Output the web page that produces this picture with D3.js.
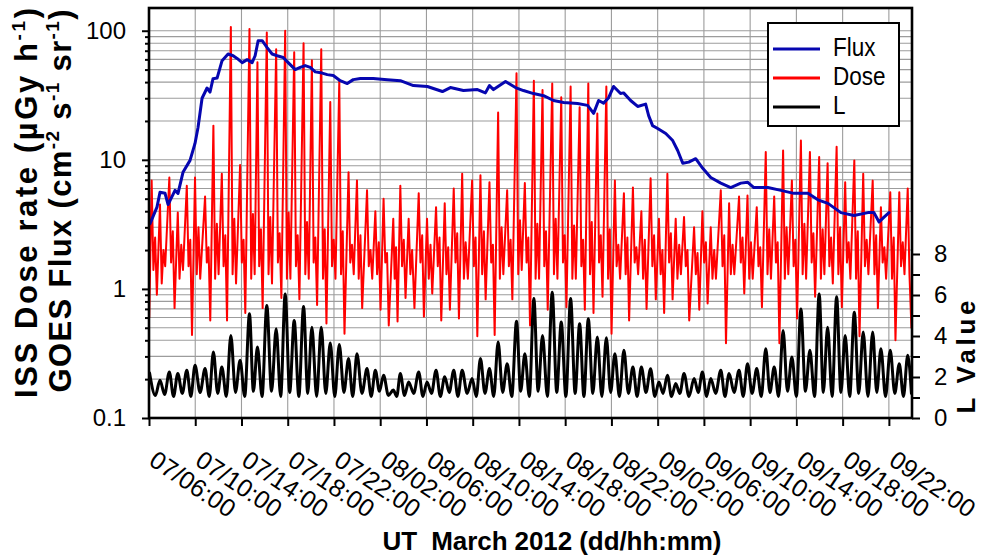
<!DOCTYPE html>
<html>
<head>
<meta charset="utf-8">
<script src="https://cdn.jsdelivr.net/npm/d3@7"></script>
<style>
  body { margin: 0; background: #fff; }
  text { font-family: "Liberation Sans", Arial, sans-serif; }
</style>
</head>
<body>
<svg id="chart" width="982" height="557"></svg>
<script>
// ---- Data (time in hours after 2012-03-07 06:00 UT) ----
const tickLabels = ["07/06:00","07/10:00","07/14:00","07/18:00","07/22:00","08/02:00","08/06:00",
  "08/10:00","08/14:00","08/18:00","08/22:00","09/02:00","09/06:00","09/10:00","09/14:00",
  "09/18:00","09/22:00"];

// GOES proton flux, cm^-2 s^-1 sr^-1
const fluxData = [
  [0.09,3.2],[0.69,4.3],[0.95,5.6],[1.39,5.5],[1.65,4.5],[2.25,5.8],[2.51,5.5],[2.94,8.0],
  [3.55,9.9],[3.98,13.4],[4.24,17.8],[4.59,30],[5.02,36],[5.28,33.5],[5.54,42.5],[5.89,43],
  [6.32,58.6],[6.84,66],[7.28,64],[7.62,61],[8.06,56.6],[8.49,59.7],[8.92,56.6],[9.18,64],
  [9.44,83.7],[9.79,83.7],[10.22,74],[10.65,66],[11.09,64],[11.61,62],[12.04,56.6],[12.65,50],
  [13.08,52],[13.51,53.7],[13.95,52],[14.38,48],[14.98,47],[15.42,45.7],[15.94,45],[16.54,41],
  [17.15,39],[17.67,41.8],[18.28,42.6],[19.40,42.6],[20.61,41.8],[21.74,41],[22.87,37.6],
  [24.08,37],[25.38,33.8],[26.07,36.3],[27.20,34.4],[28.41,35],[29.10,33],[29.45,37.6],
  [29.80,35],[30.84,40.4],[31.70,36.3],[32.39,34.4],[33.26,32.6],[34.13,31.4],[34.99,28.8],
  [35.86,27.8],[37.07,27.3],[37.94,26.4],[38.46,22.9],[38.89,28.8],[39.32,27.5],[39.76,30.3],
  [40.19,37],[40.79,32.6],[41.05,33],[41.66,28.8],[42.27,25.9],[42.96,27],[43.22,22],
  [43.56,18.4],[44.00,17.5],[44.70,16],[45.30,14.1],[45.73,11.8],[46.17,9.4],[46.69,9.6],
  [47.29,10.2],[47.90,8.6],[48.59,7.3],[49.46,6.6],[50.32,6.1],[51.19,6.6],[51.80,6.7],
  [52.32,6.1],[53.53,6.1],[54.66,5.8],[55.78,5.5],[57.00,5.5],[57.86,4.9],[58.73,4.6],
  [59.85,3.9],[60.98,3.7],[62.19,3.9],[62.71,3.9],[63.15,3.3],[63.58,3.6],[64.01,3.9]
];

// ISS dose rate, uGy/h
const doseData = [
  [0.02,0.6],
  [0.23,6.9],[0.38,1.4],[0.53,2.5],[0.68,0.9],     [0.95,4.5],[1.10,1.1],[1.25,2.0],[1.40,1.5],
  [1.76,7.3],[1.91,1.6],[2.06,2.8],[2.21,0.71],    [2.49,3.9],[2.64,1.2],[2.79,2.2],[2.94,1.4],
  [3.27,6.3],[3.42,1.5],[3.57,2.4],[3.72,0.44],    [3.98,7.3],[4.13,1.3],[4.28,3.0],[4.43,1.2],
  [4.85,5.2],[5.00,1.6],[5.15,2.1],[5.30,0.57],    [5.57,18.4],[5.72,1.2],[5.87,3.2],[6.02,1.3],
  [6.30,7.8],[6.45,1.5],[6.60,2.6],[6.75,0.57],    [7.08,107],[7.23,1.3],[7.38,3.5],[7.53,1.1],
  [7.88,9.1],[8.03,1.6],[8.18,2.4],[8.33,0.65],    [8.69,103],[8.84,1.2],[8.99,3.8],[9.14,1.3],
  [9.38,57],[9.53,1.5],[9.68,2.9],[9.83,0.71],     [10.19,97],[10.34,1.3],[10.49,3.6],[10.64,1.1],
  [11.00,72],[11.15,1.6],[11.30,2.7],[11.45,0.85], [11.78,100],[11.93,1.2],[12.08,3.9],[12.23,1.2],
  [12.56,68],[12.71,1.5],[12.86,2.6],[13.01,0.83], [13.37,80],[13.52,1.3],[13.67,3.3],[13.82,1.2],
  [14.09,59],[14.24,1.6],[14.39,2.5],[14.54,0.75], [14.90,72],[15.05,1.2],[15.20,2.9],[15.35,0.54],
  [15.68,28],[15.83,1.5],[15.98,2.4],[16.13,1.2],  [16.46,41],[16.61,1.3],[16.76,2.8],[16.91,0.45],
  [17.26,8.0],[17.41,1.6],[17.56,2.2],[17.71,1.3], [17.99,6.9],[18.14,1.2],[18.29,2.6],[18.44,0.71],
  [18.86,5.8],[19.01,1.5],[19.16,2.0],[19.31,1.2], [19.58,4.0],[19.73,1.3],[19.88,2.3],[20.03,0.69],
  [20.29,5.0],[20.44,1.6],[20.59,1.9],[20.74,0.52],[21.13,3.5],[21.25,1.2],[21.37,2.1],[21.50,0.56],
  [21.74,6.3],[21.89,1.5],[22.04,2.4],[22.19,0.85],[22.46,3.5],[22.61,1.3],[22.76,2.0],[22.96,0.71],
  [23.33,5.5],[23.48,1.6],[23.63,2.6],[23.78,0.61],[24.05,3.5],[24.20,1.2],[24.35,2.2],[24.50,0.92],
  [24.83,4.3],[24.98,1.5],[25.13,2.5],[25.28,0.57],[25.58,4.6],[25.73,1.3],[25.88,2.1],[26.03,0.69],
  [26.36,6.0],[26.51,1.6],[26.66,2.7],[26.81,0.59],[27.09,7.8],[27.24,1.2],[27.39,2.3],[27.58,1.2],
  [27.95,6.9],[28.10,1.5],[28.25,2.5],[28.40,0.43],[28.67,7.6],[28.82,1.3],[28.97,2.8],[29.12,0.83],
  [29.45,6.7],[29.60,1.6],[29.75,2.2],[29.90,0.44],[30.20,23.3],[30.35,1.2],[30.50,3.0],[30.65,1.3],
  [30.98,5.8],[31.13,1.5],[31.28,2.4],[31.43,0.83],[31.79,46.8],[31.94,1.3],[32.09,3.4],[32.24,1.4],
  [32.51,6.6],[32.66,1.6],[32.81,2.5],[32.96,0.52],[33.29,41],[33.44,1.2],[33.59,3.2],[33.74,1.2],
  [34.04,34.8],[34.19,1.5],[34.34,2.8],[34.49,0.69],[34.88,39],[35.03,1.3],[35.18,3.5],[35.33,1.2],
  [35.66,30.5],[35.81,1.6],[35.96,2.6],[36.11,0.72],[36.47,37],[36.62,1.2],[36.77,3.1],[36.92,1.2],
  [37.25,25.5],[37.40,1.5],[37.55,2.4],[37.70,0.69],[38.00,39],[38.15,1.3],[38.30,3.3],[38.45,0.65],
  [38.78,22.8],[38.93,1.6],[39.08,2.6],[39.23,0.87],[39.56,37],[39.71,1.2],[39.86,2.9],[40.01,0.45],
  [40.30,6.9],[40.45,1.5],[40.60,2.2],[40.75,1.2], [41.08,5.5],[41.23,1.3],[41.38,2.5],[41.53,0.57],
  [41.86,6.1],[42.01,1.6],[42.16,2.1],[42.31,1.3], [42.59,4.0],[42.74,1.2],[42.89,2.4],[43.04,0.70],
  [43.39,7.2],[43.54,1.5],[43.69,2.6],[43.84,0.83],[44.11,3.5],[44.26,1.3],[44.41,2.0],[44.56,0.65],
  [44.84,7.8],[44.99,1.6],[45.14,2.7],[45.29,0.83],[45.56,3.5],[45.71,1.2],[45.86,2.2],[46.01,1.3],
  [46.28,3.6],[46.43,1.5],[46.58,2.0],[46.73,0.57],[47.15,3.0],[47.30,1.3],[47.45,1.9],[47.60,0.69],
  [47.87,4.0],[48.02,1.6],[48.17,2.3],[48.32,0.77],[48.59,3.0],[48.74,1.2],[48.89,2.0],[49.04,1.2],
  [49.46,5.8],[49.61,1.5],[49.76,2.6],[49.91,0.38],[50.18,4.6],[50.33,1.3],[50.48,2.2],[50.63,1.3],
  [51.04,5.2],[51.19,1.6],[51.34,2.5],[51.49,0.92],[51.77,5.3],[51.92,1.2],[52.07,2.3],[52.22,1.2],
  [52.57,4.3],[52.72,1.5],[52.87,2.1],[53.02,0.72],[53.35,11.5],[53.50,1.3],[53.65,2.9],[53.80,1.2],
  [54.08,5.2],[54.23,1.6],[54.38,2.3],[54.53,0.38],[54.85,11.8],[55.00,1.2],[55.15,3.0],[55.30,1.3],
  [55.61,6.9],[55.76,1.5],[55.91,2.4],[56.06,0.59],[56.39,14.1],[56.54,1.3],[56.69,3.2],[56.84,1.2],
  [57.17,11.5],[57.32,1.6],[57.47,2.7],[57.62,0.87],[57.97,10.5],[58.12,1.2],[58.27,2.9],[58.42,1.3],
  [58.70,9.4],[58.85,1.5],[59.00,2.5],[59.15,1.1], [59.48,12.6],[59.63,1.3],[59.78,3.0],[59.93,0.72],
  [60.22,6.7],[60.37,1.6],[60.52,2.3],[60.67,1.2], [61.01,9.9],[61.16,1.2],[61.31,2.8],[61.46,0.43],
  [61.78,7.8],[61.93,1.5],[62.08,2.4],[62.23,1.3], [62.60,6.9],[62.75,1.3],[62.90,2.6],[63.05,0.71],
  [63.31,4.3],[63.46,1.6],[63.61,2.1],[63.76,1.2], [64.12,5.6],[64.27,1.2],[64.42,2.5],[64.57,0.40],
  [64.90,5.6],[65.05,1.5],[65.20,2.3],[65.35,1.3], [65.63,6.0],[65.78,1.3],[65.95,0.5]
];

// ISS McIlwain L value
const lData = [
  [0.05,2.20],[0.55,1.10],[0.95,1.84],[1.35,1.15],[1.76,2.25],[2.12,1.05],[2.49,2.17],[2.88,1.20],
  [3.27,2.33],[3.62,1.05],[3.98,2.57],[4.42,1.25],[4.85,2.41],[5.21,1.05],[5.57,3.22],[5.94,1.20],
  [6.30,2.49],[6.69,1.05],[7.08,4.03],[7.48,1.25],[7.88,2.82],[8.28,1.05],[8.69,5.08],[9.03,1.30],
  [9.38,3.46],[9.78,1.05],[10.19,5.49],[10.60,1.30],[11.00,4.35],[11.39,1.05],[11.78,6.05],[12.17,1.25],
  [12.56,4.76],[12.96,1.05],[13.37,5.44],[13.73,1.20],[14.09,4.43],[14.50,1.05],[14.90,4.43],[15.29,1.20],
  [15.68,3.66],[16.07,1.05],[16.46,3.59],[16.86,1.25],[17.26,2.90],[17.62,1.05],[17.99,3.14],[18.42,1.20],
  [18.86,2.41],[19.22,1.05],[19.58,2.33],[19.93,1.30],[20.29,2.09],[20.71,1.10],[21.13,1.36],[21.43,1.05],
  [21.74,2.17],[22.10,1.10],[22.46,1.76],[22.90,1.20],[23.33,2.25],[23.69,1.05],[24.05,1.76],[24.44,1.20],
  [24.83,2.33],[25.20,1.05],[25.58,2.01],[25.97,1.25],[26.36,2.33],[26.72,1.05],[27.09,2.33],[27.52,1.20],
  [27.95,1.93],[28.31,1.05],[28.67,2.90],[29.06,1.20],[29.45,2.41],[29.82,1.05],[30.20,3.71],[30.59,1.25],
  [30.98,2.65],[31.38,1.05],[31.79,4.72],[32.15,1.30],[32.51,3.14],[32.90,1.05],[33.29,5.83],[33.66,1.30],
  [34.04,4.03],[34.46,1.05],[34.88,6.13],[35.27,1.25],[35.66,4.68],[36.06,1.05],[36.47,5.83],[36.86,1.20],
  [37.25,4.60],[37.62,1.05],[38.00,4.84],[38.39,1.20],[38.78,3.95],[39.17,1.05],[39.56,3.92],[39.93,1.25],
  [40.30,3.14],[40.69,1.05],[41.08,3.30],[41.47,1.20],[41.86,2.49],[42.22,1.05],[42.59,2.49],[42.99,1.25],
  [43.39,2.40],[43.75,1.05],[44.11,1.76],[44.47,1.20],[44.84,2.09],[45.20,1.05],[45.56,1.68],[45.92,1.20],
  [46.28,2.17],[46.71,1.05],[47.15,1.93],[47.51,1.25],[47.87,2.25],[48.23,1.05],[48.59,1.93],[49.02,1.20],
  [49.46,2.33],[49.82,1.05],[50.18,2.17],[50.61,1.25],[51.04,2.33],[51.40,1.05],[51.77,2.65],[52.17,1.20],
  [52.57,2.41],[52.96,1.05],[53.35,3.38],[53.71,1.25],[54.08,2.49],[54.46,1.05],[54.85,4.27],[55.23,1.30],
  [55.61,2.98],[56.00,1.05],[56.39,5.32],[56.78,1.30],[57.17,3.30],[57.57,1.05],[57.97,6.05],[58.33,1.25],
  [58.70,4.43],[59.09,1.05],[59.48,5.92],[59.85,1.25],[60.22,4.03],[60.61,1.05],[61.01,5.16],[61.39,1.20],
  [61.78,4.19],[62.19,1.05],[62.60,4.19],[62.95,1.25],[63.31,3.38],[63.71,1.05],[64.12,3.30],[64.51,1.20],
  [64.90,2.65],[65.26,1.05],[65.63,3.06],[65.95,1.20]
];

const leftMajorTicks = [0.1, 1, 10, 100];
const rightTicks = [0, 1, 2, 3, 4, 5, 6, 7, 8];
const rightLabelled = [0, 2, 4, 6, 8];
const seriesNames = ["Flux", "Dose", "L"];
const seriesColors = ["#0606b0", "#ff0000", "#000000"];

// ---- Layout ----
const plot = { left: 149, right: 912, top: 8, bottom: 418 };
const t0 = Date.UTC(2012, 2, 7, 6);
const toDate = h => new Date(t0 + h * 3600e3);
const parseTick = d3.utcParse("%Y-%m-%d/%H:%M");
const tickDates = tickLabels.map(s => parseTick("2012-03-" + s));

const x = d3.scaleUtc().domain([toDate(0), toDate(66)]).range([plot.left, plot.right]);
const y = d3.scaleLog().domain([0.1, 150]).range([plot.bottom, plot.top]);
const yL = d3.scaleLinear().domain([0, 20]).range([plot.bottom, plot.top]);

const svg = d3.select("#chart");
svg.append("rect").attr("width", 982).attr("height", 557).attr("fill", "#fff");

svg.append("clipPath").attr("id", "plotClip")
  .append("rect").attr("x", plot.left).attr("y", plot.top)
  .attr("width", plot.right - plot.left).attr("height", plot.bottom - plot.top);

// log grid values: every 1..9 step within each decade
const gridVals = [];
[0.1, 1, 10, 100].forEach(d => { for (let m = 1; m <= 9; m++) { const v = +(m * d).toPrecision(3); if (v > 0.1 && v < 150) gridVals.push(v); } });
const minorVals = gridVals.filter(v => !leftMajorTicks.includes(v));

const grid = svg.append("g").attr("stroke", "#9c9c9c").attr("stroke-width", 1.1);
grid.selectAll("line.h").data(gridVals).join("line").attr("class", "h")
  .attr("x1", plot.left).attr("x2", plot.right)
  .attr("y1", d => y(d)).attr("y2", d => y(d));
grid.selectAll("line.v").data(tickDates.slice(1)).join("line").attr("class", "v")
  .attr("x1", d => x(d)).attr("x2", d => x(d))
  .attr("y1", plot.top).attr("y2", plot.bottom);

// ---- Series ----
const lineLog = d3.line().x(d => x(toDate(d[0]))).y(d => y(d[1]));
const lineL = d3.line().x(d => x(toDate(d[0]))).y(d => yL(d[1])).curve(d3.curveMonotoneX);
const series = svg.append("g").attr("clip-path", "url(#plotClip)").attr("fill", "none")
  .attr("stroke-linejoin", "round").attr("stroke-linecap", "round");
series.append("path").datum(doseData).attr("d", lineLog)
  .attr("stroke", seriesColors[1]).attr("stroke-width", 2);
series.append("path").datum(fluxData).attr("d", lineLog)
  .attr("stroke", seriesColors[0]).attr("stroke-width", 3);
series.append("path").datum(lData).attr("d", lineL)
  .attr("stroke", seriesColors[2]).attr("stroke-width", 3);

// ---- Axes ----
function styleAxis(g, size) {
  g.select(".domain").remove();
  g.selectAll(".tick line").attr("stroke", "#000").attr("stroke-width", 2);
  g.selectAll(".tick text").attr("fill", "#000").attr("font-size", size)
    .attr("font-family", "Liberation Sans, Arial, sans-serif");
}

const xAxis = svg.append("g").attr("transform", `translate(0,${plot.bottom})`)
  .call(d3.axisBottom(x).tickValues(tickDates).tickFormat(d3.utcFormat("%d/%H:%M")).tickSize(8))
  .call(g => styleAxis(g, 25));
xAxis.selectAll(".tick text").attr("y", null).attr("dy", null)
  .attr("text-anchor", "start").attr("transform", "translate(-2,46) rotate(34)");

svg.append("g").attr("transform", `translate(${plot.left},0)`)
  .call(d3.axisLeft(y).tickValues(leftMajorTicks).tickFormat(d3.format("~g")).tickSize(7).tickPadding(16))
  .call(g => styleAxis(g, 24));
svg.append("g").attr("transform", `translate(${plot.left},0)`)
  .call(d3.axisLeft(y).tickValues(minorVals).tickFormat("").tickSize(4))
  .call(g => styleAxis(g, 24));

svg.append("g").attr("transform", `translate(${plot.right},0)`)
  .call(d3.axisRight(yL).tickValues(rightTicks).tickSize(8).tickPadding(14)
    .tickFormat(d => rightLabelled.includes(d) ? d : ""))
  .call(g => styleAxis(g, 24));

// frame
svg.append("rect").attr("x", plot.left).attr("y", plot.top)
  .attr("width", plot.right - plot.left).attr("height", plot.bottom - plot.top)
  .attr("fill", "none").attr("stroke", "#000").attr("stroke-width", 2.6);

// ---- Axis titles ----
const leftTitle = svg.append("g").attr("font-weight", "bold").attr("font-size", 31).attr("fill", "#000");
const t1 = leftTitle.append("text").attr("transform", "translate(37,203) rotate(-90)")
  .attr("text-anchor", "middle").attr("textLength", 390).attr("lengthAdjust", "spacing");
t1.append("tspan").text("ISS Dose rate (\u00b5Gy h");
t1.append("tspan").attr("dy", -12).attr("font-size", 19).text("-1");
t1.append("tspan").attr("dy", 12).text(")");

const t2 = leftTitle.append("text").attr("transform", "translate(71,201) rotate(-90)")
  .attr("text-anchor", "middle").attr("textLength", 383).attr("lengthAdjust", "spacing");
t2.append("tspan").text("GOES Flux (cm");
t2.append("tspan").attr("dy", -12).attr("font-size", 19).text("-2");
t2.append("tspan").attr("dy", 12).text(" s");
t2.append("tspan").attr("dy", -12).attr("font-size", 19).text("-1");
t2.append("tspan").attr("dy", 12).text(" sr");
t2.append("tspan").attr("dy", -12).attr("font-size", 19).text("-1");
t2.append("tspan").attr("dy", 12).text(")");

svg.append("text").attr("transform", "translate(975,357) rotate(-90)")
  .attr("text-anchor", "middle").attr("font-weight", "bold").attr("font-size", 26)
  .attr("textLength", 113).attr("lengthAdjust", "spacing").text("L Value");

svg.append("text").attr("x", 552).attr("y", 550).attr("text-anchor", "middle")
  .attr("font-weight", "bold").attr("font-size", 26).attr("textLength", 339)
  .attr("lengthAdjust", "spacing").style("white-space", "pre").text("UT  March 2012 (dd/hh:mm)");

// ---- Legend ----
const legend = svg.append("g");
legend.append("rect").attr("x", 768).attr("y", 23).attr("width", 131).attr("height", 103)
  .attr("fill", "#fff").attr("stroke", "#000").attr("stroke-width", 2);
const rowY = [49, 78, 107];
seriesNames.forEach((name, i) => {
  legend.append("line").attr("x1", 773).attr("x2", 820).attr("y1", rowY[i]).attr("y2", rowY[i])
    .attr("stroke", seriesColors[i]).attr("stroke-width", 3);
  legend.append("text").attr("transform", `translate(833,${rowY[i] + 7}) scale(0.9,1)`)
    .attr("font-size", 25).attr("fill", "#000").text(name);
});
</script>
</body>
</html>
